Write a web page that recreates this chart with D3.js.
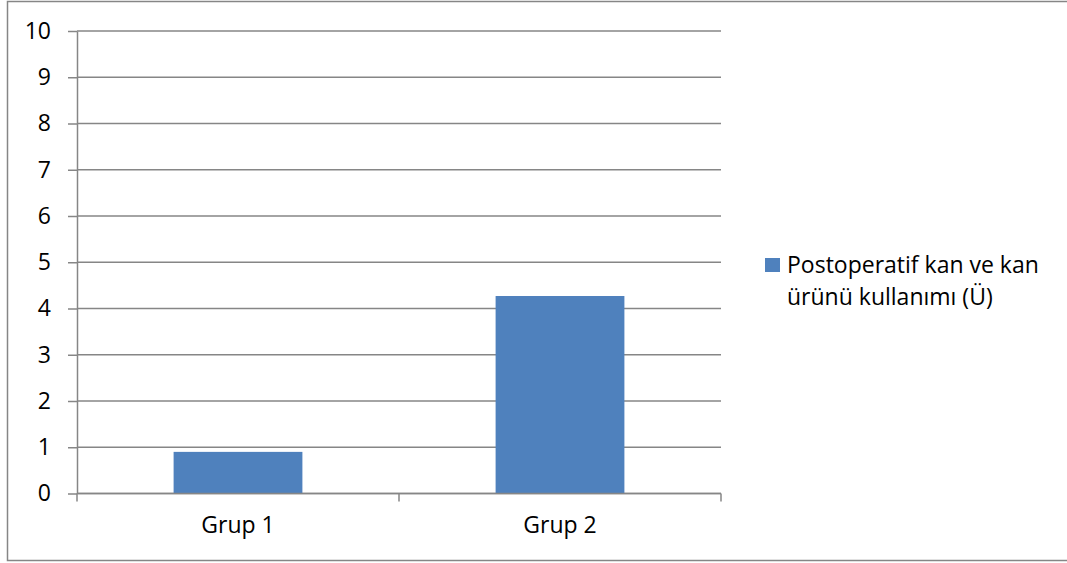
<!DOCTYPE html>
<meta charset="utf-8">
<style>
	body { margin: 0; background: #fff; }
	svg { display: block; }
</style>
<body>
	<script src="https://d3js.org/d3.v7.min.js"></script>
	<script>
		// chart data
		var groups = ["Grup 1", "Grup 2"];
		var values = [0.90, 4.27];
		var yTicks = [0, 1, 2, 3, 4, 5, 6, 7, 8, 9, 10];
		var seriesName = ["Postoperatif kan ve kan", "ürünü kullanımı (Ü)"];

		var width = 1067, height = 563;
		var plot = {left: 77, right: 721, top: 31, bottom: 493.5};
		var barColor = "#4f81bd";
		var gridColor = "#868686";
		var fontFam = "'Open Sans', sans-serif";
		var fontSize = "23px";

		var svg = d3.select("body").append("svg")
			.attr("width", width)
			.attr("height", height);

		// outer frame
		svg.append("rect")
			.attr("x", 7.5)
			.attr("y", 1.5)
			.attr("width", 1080)
			.attr("height", 559)
			.attr("fill", "none")
			.attr("stroke", gridColor)
			.attr("stroke-width", 1.5);

		var x = d3.scaleBand()
			.domain(groups)
			.range([plot.left, plot.right])
			.paddingInner(0.6)
			.paddingOuter(0.3);

		var y = d3.scaleLinear()
			.domain([0, 10])
			.range([plot.bottom, plot.top]);

		// gridlines
		svg.selectAll("line.grid")
			.data(yTicks)
			.enter()
			.append("line")
			.attr("class", "grid")
			.attr("x1", plot.left)
			.attr("x2", plot.right)
			.attr("y1", function(d) { return y(d); })
			.attr("y2", function(d) { return y(d); })
			.attr("stroke", gridColor)
			.attr("stroke-width", 1.5);

		// bars
		svg.selectAll("rect.bar")
			.data(values)
			.enter()
			.append("rect")
			.attr("class", "bar")
			.attr("x", function(d, i) { return x(groups[i]); })
			.attr("y", function(d) { return y(d); })
			.attr("width", x.bandwidth())
			.attr("height", function(d) { return y(0) - y(d); })
			.attr("fill", barColor);

		// y axis
		var yAxis = svg.append("g")
			.attr("transform", "translate(" + plot.left + ",0)")
			.call(d3.axisLeft(y).tickValues(yTicks).tickSize(9).tickPadding(17).tickSizeOuter(0));

		// x axis (ticks between categories)
		var step = (plot.right - plot.left) / groups.length;
		var xEdges = d3.range(groups.length + 1).map(function(i) { return plot.left + i * step; });
		var xAxis = svg.append("g")
			.attr("transform", "translate(0," + plot.bottom + ")");
		xAxis.append("line")
			.attr("x1", plot.left).attr("x2", plot.right)
			.attr("stroke", gridColor).attr("stroke-width", 1.5);
		xAxis.selectAll("line.tick")
			.data(xEdges)
			.enter()
			.append("line")
			.attr("class", "tick")
			.attr("x1", function(d) { return d; })
			.attr("x2", function(d) { return d; })
			.attr("y1", 0)
			.attr("y2", 8)
			.attr("stroke", gridColor)
			.attr("stroke-width", 1.5);
		xAxis.selectAll("text")
			.data(groups)
			.enter()
			.append("text")
			.text(function(d) { return d; })
			.attr("x", function(d) { return x(d) + x.bandwidth() / 2; })
			.attr("y", 39)
			.attr("text-anchor", "middle")
			.attr("font-family", fontFam)
			.attr("font-size", fontSize)
			.attr("fill", "#000");

		yAxis.select(".domain").attr("stroke", gridColor).attr("stroke-width", 1.5);
		yAxis.selectAll(".tick line").attr("stroke", gridColor).attr("stroke-width", 1.5);
		yAxis.selectAll(".tick text")
			.attr("font-family", fontFam)
			.attr("font-size", fontSize)
			.attr("fill", "#000");

		// legend
		var legend = svg.append("g").attr("transform", "translate(765,258)");
		legend.append("rect")
			.attr("width", 15)
			.attr("height", 14)
			.attr("fill", barColor);
		legend.selectAll("text")
			.data(seriesName)
			.enter()
			.append("text")
			.text(function(d) { return d; })
			.attr("x", 22)
			.attr("y", function(d, i) { return 15 + i * 32; })
			.attr("font-family", fontFam)
			.attr("font-size", fontSize)
			.attr("fill", "#000");
	</script>
</body>
